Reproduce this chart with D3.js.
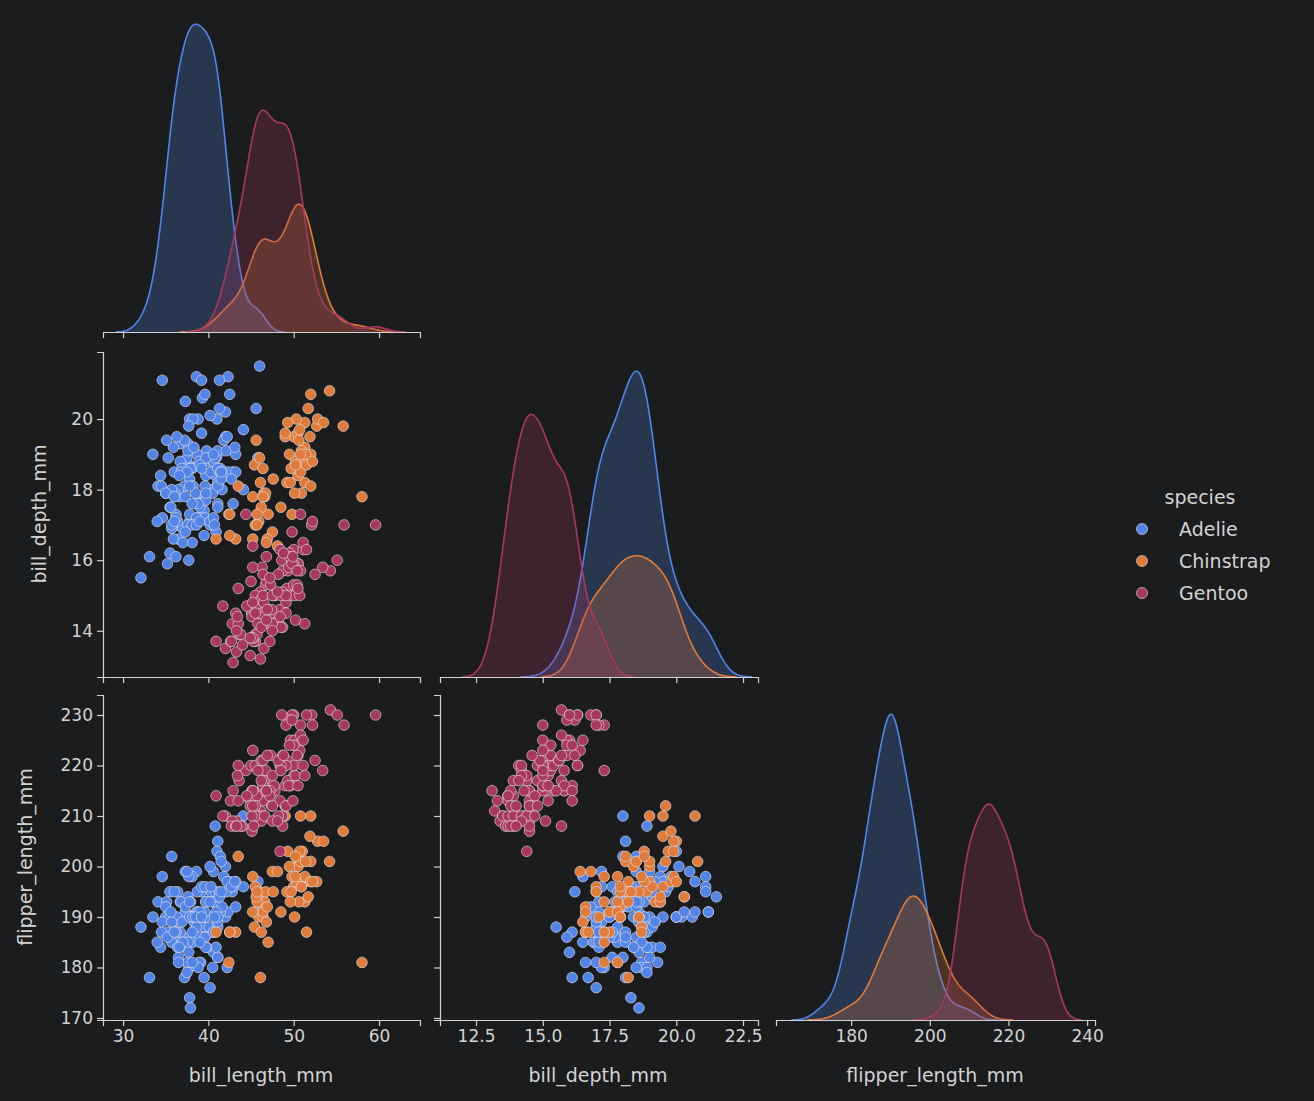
<!DOCTYPE html>
<html><head><meta charset="utf-8">
<script src="https://cdn.jsdelivr.net/npm/d3@7"></script>
<style>body{margin:0;background:#1b1c1e}svg{font-family:"DejaVu Sans",sans-serif}</style>
</head><body>
<svg id="svg" width="1314" height="1101"></svg>
<script>
var species = ["Adelie", "Chinstrap", "Gentoo"];
var colors = ["#5384e8", "#e07b3c", "#a8385f"];
var vars = ["bill_length_mm", "bill_depth_mm", "flipper_length_mm"];

// [bill_length, bill_depth, flipper_length]
var adelie = [[39.1,18.7,181],[39.5,17.4,186],[40.3,18,195],[36.7,19.3,193],[39.3,20.6,190],[38.9,17.8,181],[39.2,19.6,195],[34.1,18.1,193],[42,20.2,190],[37.8,17.1,186],[37.8,17.3,180],[41.1,17.6,182],[38.6,21.2,191],[34.6,21.1,198],[36.6,17.8,185],[38.7,19,195],[42.5,20.7,197],[34.4,18.4,184],[46,21.5,194],[37.8,18.3,174],[37.7,18.7,180],[35.9,19.2,189],[38.2,18.1,185],[38.8,17.2,180],[35.3,18.9,187],[40.6,18.6,183],[40.5,17.9,187],[37.9,18.6,172],[40.5,18.9,180],[39.5,16.7,178],[37.2,18.1,178],[39.5,17.8,188],[40.9,18.9,184],[36.4,17,195],[39.2,21.1,196],[38.8,20,190],[42.2,18.5,180],[37.6,19.3,181],[39.8,19.1,184],[36.5,18,182],[40.8,18.4,195],[36,18.5,186],[44.1,19.7,196],[37,16.9,185],[39.6,18.8,190],[41.1,19,182],[37.5,18.9,179],[36,17.9,190],[42.3,21.2,191],[39.6,17.7,186],[40.1,18.9,188],[35,17.9,190],[42,19.5,200],[34.5,18.1,187],[41.4,18.6,191],[39,17.5,186],[40.6,18.8,193],[36.5,16.6,181],[37.6,19.1,194],[35.7,16.9,185],[41.3,21.1,195],[37.6,17,185],[41.1,18.2,192],[36.4,17.1,184],[41.6,18,192],[35.5,16.2,195],[41.1,19.1,188],[35.9,16.6,190],[41.8,19.4,198],[33.5,19,190],[39.7,18.4,190],[39.6,17.2,196],[45.8,18.9,197],[35.5,17.5,190],[42.8,18.5,195],[40.9,16.8,191],[37.2,19.4,184],[36.2,16.1,187],[42.1,19.1,195],[34.6,17.2,189],[42.9,17.6,196],[36.7,18.8,187],[35.1,19.4,193],[37.3,17.8,191],[41.3,20.3,194],[36.3,19.5,190],[36.9,18.6,189],[38.3,19.2,189],[38.9,18.8,190],[35.7,18,202],[41.1,18.1,205],[34,17.1,185],[39.6,18.1,186],[36.2,17.3,187],[40.8,18.9,208],[38.1,18.6,190],[40.3,18.5,196],[33.1,16.1,178],[43.2,18.5,192],[35,17.9,192],[41,20,203],[37.7,16,183],[37.8,20,190],[37.9,18.6,193],[39.7,18.9,184],[38.6,17.2,199],[38.2,20,190],[38.1,17,181],[43.2,19,197],[38.1,16.5,198],[45.6,20.3,191],[39.7,17.7,193],[42.2,19.5,197],[39.6,20.7,191],[42.7,18.3,196],[38.6,17,188],[37.3,20.5,199],[35.7,17,189],[41.1,18.6,189],[36.2,17.2,187],[37.7,19.8,198],[40.2,17,176],[41.4,18.5,202],[35.2,15.9,186],[40.6,19,199],[38.8,17.6,191],[41.5,18.3,195],[39,17.1,191],[44.1,18,210],[38.5,17.9,190],[43.1,19.2,197],[36.8,18.5,193],[37.5,18.5,199],[38.1,17.6,187],[41.1,17.5,190],[35.6,17.5,191],[40.2,20.1,200],[37,16.5,185],[39.7,17.9,193],[40.2,17.1,193],[40.6,17.2,187],[32.1,15.5,188],[40.7,17,190],[37.3,16.8,192],[39,18.7,185],[39.2,18.6,190],[36.6,18.4,184],[36,17.8,195],[37.8,18.1,193],[36,17.1,187],[41.5,18.5,201]];
var chinstrap = [[46.5,17.9,192],[50,19.5,196],[51.3,19.2,193],[45.4,18.7,188],[52.7,19.8,197],[45.2,17.8,198],[46.1,18.2,178],[51.3,18.2,197],[46,18.9,195],[51.3,19.9,198],[46.6,17.8,193],[51.7,20.3,194],[47,17.3,185],[52,18.1,201],[45.9,17.1,190],[50.5,19.6,201],[50.3,20,197],[58,17.8,181],[46.4,18.6,190],[49.2,18.2,195],[42.4,17.3,181],[48.5,17.5,191],[43.2,16.6,187],[50.6,19.4,193],[46.7,17.9,195],[52,19,197],[50.5,18.4,200],[49.5,19,200],[46.4,17.8,191],[52.8,20,205],[40.9,16.6,187],[54.2,20.8,201],[42.5,16.7,187],[51,18.8,203],[49.7,18.6,195],[47.5,16.8,199],[47.6,18.3,195],[52,20.7,210],[46.9,16.6,192],[53.5,19.9,205],[49,19.5,210],[46.2,17.5,187],[50.9,19.1,196],[45.5,17,196],[50.9,17.9,196],[50.8,18.5,201],[50.1,17.9,190],[49,19.6,212],[51.5,18.7,187],[49.8,17.3,198],[48.1,16.4,199],[51.4,19,201],[45.7,17.3,193],[50.7,19.7,203],[42.5,17.3,187],[52.2,18.8,197],[45.2,16.6,191],[49.3,19.9,203],[50.2,18.8,202],[45.6,19.4,194],[51.9,19.5,206],[46.8,16.5,189],[45.7,17,195],[55.8,19.8,207],[43.5,18.1,202],[49.6,18.2,193],[50.8,19,210],[50.2,18.7,198]];
var gentoo = [[46.1,13.2,211],[50,16.3,230],[48.7,14.1,210],[50,15.2,218],[47.6,14.5,215],[46.5,13.5,210],[45.4,14.6,211],[46.7,15.3,219],[43.3,13.4,209],[46.8,15.4,215],[40.9,13.7,214],[49,16.1,216],[45.5,13.7,214],[48.4,14.6,213],[45.8,14.6,210],[49.3,15.7,217],[42,13.5,210],[49.2,15.2,221],[46.2,14.5,209],[48.7,15.1,222],[50.2,14.3,218],[45.1,14.5,215],[46.5,14.5,213],[46.3,15.8,215],[42.9,13.1,215],[46.1,15.1,215],[47.8,15,215],[48.2,14.3,210],[50,15.3,220],[47.3,15.3,222],[42.8,14.2,209],[45.1,14.5,207],[59.6,17,230],[49.1,14.8,220],[48.4,16.3,220],[42.6,13.7,213],[44.4,17.3,219],[44,13.6,208],[48.7,15.7,208],[42.7,13.7,208],[49.6,16,225],[45.3,13.7,210],[49.6,15,216],[50.5,15.9,222],[43.6,13.9,217],[45.5,13.9,210],[50.5,15.9,225],[44.9,13.3,213],[45.2,15.8,215],[46.6,14.2,210],[48.5,14.1,220],[45.1,14.4,210],[50.1,15,225],[46.5,14.4,217],[45,15.4,220],[43.8,13.9,208],[45.5,15,220],[43.2,14.5,208],[50.4,15.3,224],[45.3,13.8,208],[46.2,14.9,221],[45.7,13.9,214],[54.3,15.7,231],[45.8,14.2,219],[49.8,16.8,230],[49.5,16.2,229],[43.5,14.2,220],[50.7,15,223],[47.7,15,216],[46.4,15.6,221],[48.2,15.6,221],[46.5,14.8,217],[46.4,15,216],[48.6,16,230],[47.5,14.2,209],[51.1,16.3,220],[45.2,13.8,215],[45.2,16.4,223],[49.1,14.5,212],[52.5,15.6,221],[47.4,14.6,212],[50,15.9,224],[44.9,13.8,212],[50.8,17.3,228],[43.4,14.4,218],[51.3,14.2,218],[47.5,14,212],[52.1,17,230],[47.5,15,218],[52.2,17.1,228],[45.5,14.5,212],[49.5,16.1,224],[44.5,14.7,214],[50.8,15.7,226],[49.4,15.8,216],[46.9,14.6,222],[48.4,14.4,203],[51.1,16.5,225],[48.5,15,219],[55.9,17,228],[47.2,15.5,215],[49.1,15,228],[46.8,16.1,215],[41.7,14.7,210],[53.4,15.8,219],[43.3,14,208],[48.1,15.1,209],[50.5,15.2,216],[49.8,15.9,229],[43.5,15.2,213],[51.5,16.3,230],[46.2,14.1,217],[55.1,16,230],[48.8,16.2,222],[47.2,13.7,214],[46.8,14.3,215],[50.4,15.7,222],[45.2,14.8,212],[49.9,16.1,213]];

var xTicks = [[30,40,50,60],[12.5,15,17.5,20,22.5],[180,200,220,240]];
var yTicks = [null,[14,16,18,20],[170,180,190,200,210,220,230]];
var xDecimals = [0, 1, 0];

var groups = [adelie, chinstrap, gentoo];
var N = d3.sum(groups, g => g.length);
var fg = "#d3d3d3", bg = "#1b1c1e";

// panel geometry
var colX = [[103,420],[440,758],[776,1095]];
var rowY = [[5,332],[352,677],[695,1020]];
var xDom = [[27.65,64.8],[11.15,23.06],[160.9,242]];
var yDom = [null,[12.69,21.9],[169.6,233.96]];

var xs = xDom.map((d,i) => d3.scaleLinear().domain(d).range(colX[i]));
var ys = yDom.map((d,i) => d ? d3.scaleLinear().domain(d).range([rowY[i][1], rowY[i][0]]) : null);

var svg = d3.select("#svg");
svg.append("rect").attr("width",1314).attr("height",1101).attr("fill",bg);

function styleAxis(g){
  g.select(".domain").attr("stroke",fg).attr("stroke-width",1.2);
  g.selectAll(".tick line").attr("stroke",fg).attr("stroke-width",1.2);
  g.selectAll("text").attr("fill",fg).attr("font-size",17).attr("font-family","DejaVu Sans");
}

for (var r = 0; r < 3; r++) {
  for (var c = 0; c <= r; c++) {
    var x = xs[c];
    var dec = xDecimals[c];
    var xa = d3.axisBottom(x).tickValues(xTicks[c]).tickSize(6).tickPadding(4).tickFormat(r == 2 ? (v => v.toFixed(dec)) : "");
    var gx = svg.append("g").attr("transform","translate(0," + rowY[r][1] + ")").call(xa);
    styleAxis(gx);
    if (c < r) {
      var ya = d3.axisLeft(ys[r]).tickValues(yTicks[r]).tickSize(6).tickPadding(4).tickFormat(c == 0 ? d3.format("d") : "");
      var gy = svg.append("g").attr("transform","translate(" + colX[c][0] + ",0)").call(ya);
      styleAxis(gy);
      groups.forEach(function(gr, k){
        svg.append("g").selectAll("circle").data(gr).enter().append("circle")
          .attr("cx", d => xs[c](d[c]))
          .attr("cy", d => ys[r](d[r]))
          .attr("r", 5.3)
          .attr("fill", colors[k])
          .attr("stroke", "#e8e8e8").attr("stroke-width", 0.6);
      });
    } else {
      // diagonal kde, common normalisation
      var all = [];
      var curves = groups.map(function(gr){
        var v = gr.map(d => d[c]);
        var h = d3.deviation(v) * Math.pow(v.length, -0.2);
        var lo = d3.min(v) - 3*h, hi = d3.max(v) + 3*h;
        var pts = d3.range(0, 201).map(function(i){
          var t = lo + (hi - lo) * i / 200;
          var s = d3.sum(v, u => Math.exp(-0.5 * Math.pow((t - u)/h, 2)));
          return [t, s / (N * h * Math.sqrt(2*Math.PI))];
        });
        all = all.concat(pts);
        return pts;
      });
      var yk = d3.scaleLinear().domain([0, d3.max(all, p => p[1]) * 1.03]).range([rowY[r][1], rowY[r][0] + 10]);
      var area = d3.area().x(p => x(p[0])).y0(yk(0)).y1(p => yk(p[1])).curve(d3.curveBasis);
      var line = d3.line().x(p => x(p[0])).y(p => yk(p[1])).curve(d3.curveBasis);
      curves.forEach(function(pts, k){
        svg.append("path").datum(pts).attr("d", area).attr("fill", colors[k]).attr("fill-opacity", 0.25);
        svg.append("path").datum(pts).attr("d", line).attr("fill","none").attr("stroke", colors[k]).attr("stroke-width", 1.6);
      });
      gx.raise();
    }
  }
}

// axis titles
var labX = [261, 598, 935];
vars.forEach(function(v,i){
  svg.append("text").attr("x", labX[i]).attr("y", 1082).attr("text-anchor","middle")
    .attr("fill",fg).attr("font-size",19).text(v);
});
[[1,514,46],[2,857,32]].forEach(function(a){
  svg.append("text").attr("transform","translate(" + a[2] + "," + a[1] + ") rotate(-90)")
    .attr("text-anchor","middle").attr("fill",fg).attr("font-size",19).text(vars[a[0]]);
});

// legend
svg.append("text").attr("x",1200).attr("y",504).attr("text-anchor","middle").attr("fill",fg).attr("font-size",19).text("species");
species.forEach(function(s,i){
  var y = 529 + i*32;
  svg.append("circle").attr("cx",1142).attr("cy",y).attr("r",5.5).attr("fill",colors[i]).attr("stroke","#e8e8e8").attr("stroke-width",0.6);
  svg.append("text").attr("x",1179).attr("y",y+7).attr("fill",fg).attr("font-size",19).text(s);
});
</script>
</body></html>
